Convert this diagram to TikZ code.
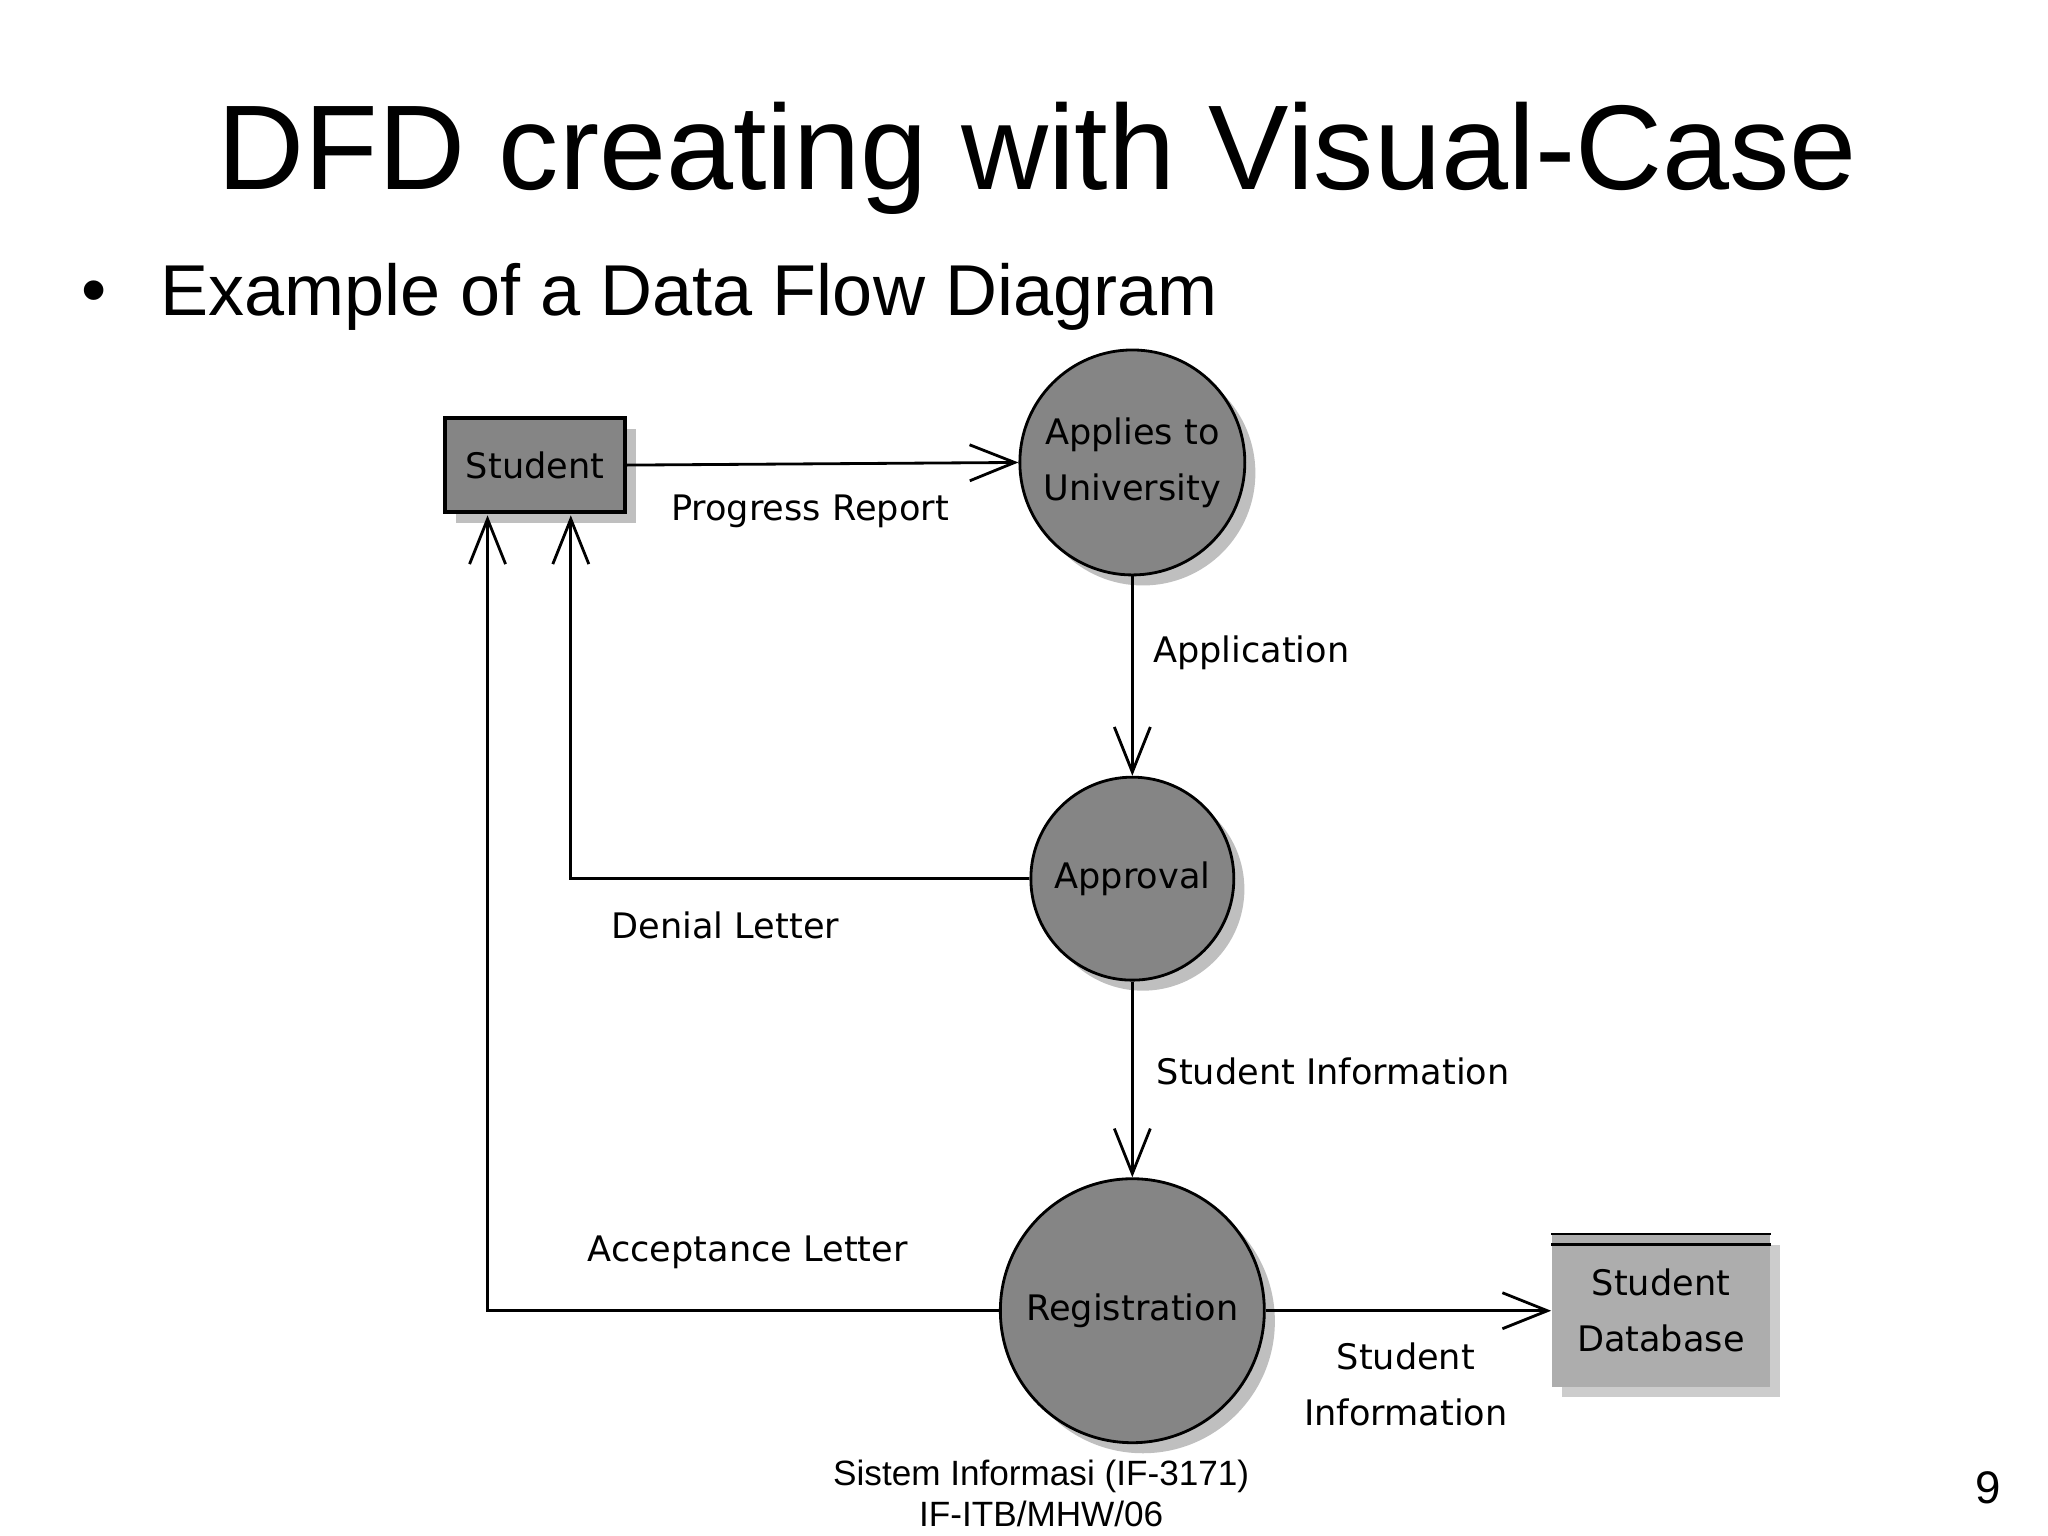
\documentclass[tikz,border=0pt]{standalone}
\usepackage{fontspec}
\setmainfont{Liberation Sans}
\newfontfamily\dfdfont{DejaVu Sans}
\usetikzlibrary{arrows.meta,shadows}
\begin{document}
\begin{tikzpicture}[x=0.013213cm,y=-0.013213cm,
  proc/.style={circle,draw=black,line width=0.8pt,fill=black!48,minimum size=#1,inner sep=0pt,align=center,font=\dfdfont\fontsize{10}{16}\selectfont,
    drop shadow={shadow xshift=3pt,shadow yshift=-3pt,fill=black!25,opacity=1}},
  flow/.style={draw=black,line width=0.8pt,-{Straight Barb[length=0.45cm,width=0.36cm,line width=0.8pt]}},
  lbl/.style={font=\dfdfont\fontsize{10}{16}\selectfont,align=center}]
\useasboundingbox (0,0) rectangle (1550,1162.5);
\node[font=\fontsize{34.3}{40}\selectfont] (title) at (785,120) {DFD creating with Visual-Case};
\node[font=\fontsize{20.5}{26}\selectfont,anchor=west] (bul) at (52,225) {•};
\node[font=\fontsize{20.5}{26}\selectfont,anchor=west] (sub) at (112,225) {Example of a Data Flow Diagram};

\node[draw=black,line width=1pt,fill=black!48,font=\dfdfont\fontsize{10}{13}\selectfont,
  drop shadow={shadow xshift=3pt,shadow yshift=-3pt,fill=black!25,opacity=1},
  minimum width=1.80cm,minimum height=0.94cm] (stu) at (405,352) {Student};
\node[proc=2.25cm] (app) at (857,350) {Applies to\\University};
\node[proc=2.03cm] (apr) at (857,665) {Approval};
\node[proc=2.64cm] (reg) at (857,992) {Registration};
\node[fill=black!32,minimum width=2.18cm,minimum height=1.52cm,align=center,font=\dfdfont\fontsize{10}{16}\selectfont,
  drop shadow={shadow xshift=3pt,shadow yshift=-3pt,fill=black!20,opacity=1}] (db) at (1257,992) {Student\\Database};
\draw[line width=0.8pt] (db.north west) -- (db.north east);
\draw[line width=0.8pt] ([yshift=-3pt]db.north west) -- ([yshift=-3pt]db.north east);

\coordinate (s1) at (369,390);
\coordinate (s2) at (432,390);
\draw[flow] (stu.east) -- (app.west);
\draw[flow] (app.south) -- (apr.north);
\draw[flow] (apr.west) -| (s2);
\draw[flow] (apr.south) -- (reg.north);
\draw[flow] (reg.west) -| (s1);
\draw[flow] (reg.east) -- (db.west);

\node[lbl] (l1) at (613,387) {Progress Report};
\node[lbl] (l2) at (947,494) {Application};
\node[lbl] (l3) at (549,700) {Denial Letter};
\node[lbl] (l4) at (1009,811) {Student Information};
\node[lbl] (l5) at (566,948) {Acceptance Letter};
\node[lbl] (l6) at (1064,1048) {Student\\Information};

\node[font=\fontsize{10}{11.5}\selectfont,align=center,inner sep=0pt,anchor=south] (foot) at (788,1156) {Sistem Informasi (IF-3171)\\IF-ITB/MHW/06};
\node[font=\fontsize{13}{16}\selectfont] (pg) at (1505,1126) {9};
\end{tikzpicture}
\end{document}
